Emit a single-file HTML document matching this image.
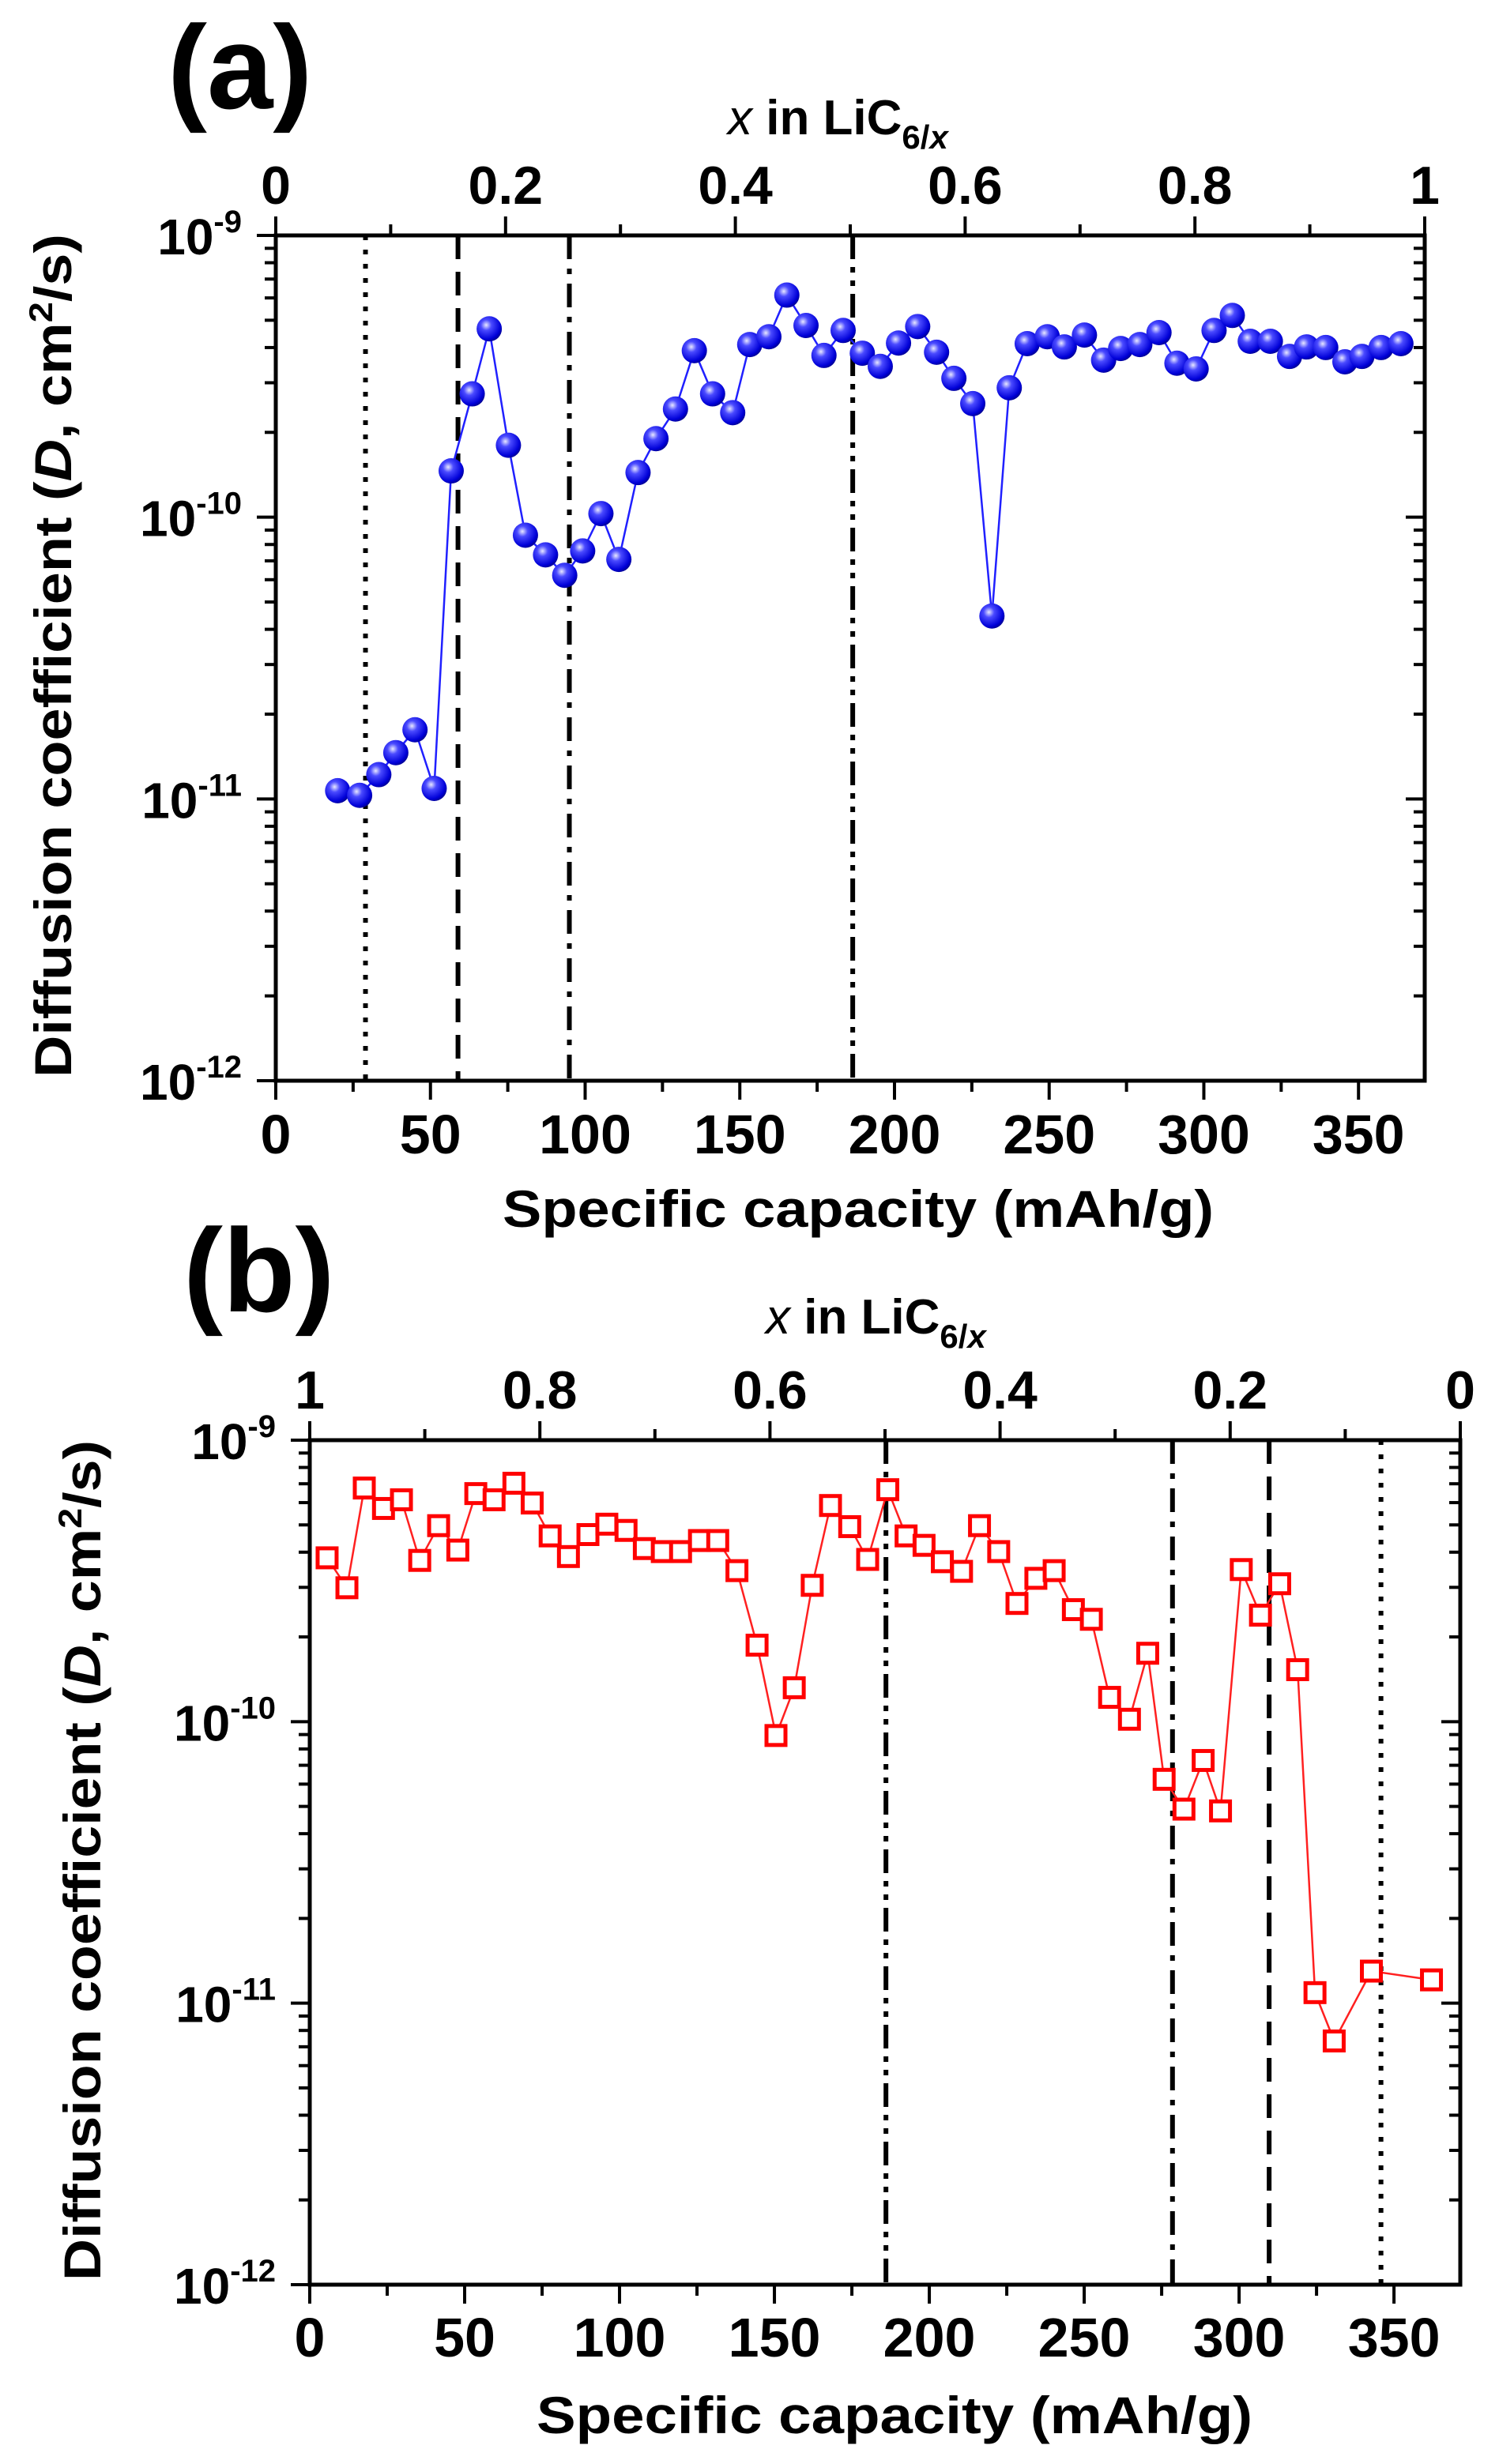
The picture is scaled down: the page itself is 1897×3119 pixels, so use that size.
<!DOCTYPE html>
<html><head><meta charset="utf-8">
<style>
html,body{margin:0;padding:0;background:#fff;}
svg{display:block;font-family:"Liberation Sans",Arial,sans-serif;font-weight:bold;}
</style></head>
<body>
<svg id="fig" width="1897" height="3119" viewBox="0 0 1897 3119" xmlns="http://www.w3.org/2000/svg">
<defs>
<radialGradient id="ball" cx="0.38" cy="0.35" r="0.7">
<stop offset="0" stop-color="#e8e8ff"/>
<stop offset="0.3" stop-color="#4a4aff"/>
<stop offset="0.8" stop-color="#0000d8"/>
<stop offset="1" stop-color="#00008a"/>
</radialGradient>
</defs>
</svg>
<script>
// ---------- Data (panel a: lithiation) ----------
const capA = [20.0,27.1,33.3,38.8,45.0,51.2,56.7,63.5,69.0,75.2,80.7,87.2,93.4,99.2,105.1,110.9,117.1,122.9,129.2,135.3,141.2,147.7,153.2,159.4,165.2,171.4,177.2,183.4,189.6,195.4,201.3,207.5,213.6,219.2,225.3,231.5,237.1,242.9,249.4,254.9,261.4,267.6,273.1,279.3,285.5,291.3,297.5,303.3,309.2,315.0,321.5,327.7,333.2,339.4,345.6,351.1,357.3,363.7];
const diffA = [1.07e-11,1.03e-11,1.22e-11,1.46e-11,1.76e-11,1.09e-11,1.46e-10,2.74e-10,4.66e-10,1.80e-10,8.63e-11,7.35e-11,6.22e-11,7.59e-11,1.03e-10,7.08e-11,1.44e-10,1.90e-10,2.42e-10,3.90e-10,2.74e-10,2.35e-10,4.10e-10,4.37e-10,6.14e-10,4.79e-10,3.75e-10,4.60e-10,3.82e-10,3.43e-10,4.15e-10,4.75e-10,3.85e-10,3.11e-10,2.53e-10,4.46e-11,2.88e-10,4.13e-10,4.37e-10,4.02e-10,4.43e-10,3.61e-10,3.97e-10,4.10e-10,4.52e-10,3.52e-10,3.36e-10,4.60e-10,5.20e-10,4.21e-10,4.21e-10,3.72e-10,4.02e-10,4.00e-10,3.56e-10,3.72e-10,4.00e-10,4.13e-10];
const vlinesA = [29.0, 58.9, 94.9, 186.5];
// ---------- Data (panel b: delithiation) ----------
const capB = [5.6,12.0,17.6,23.8,29.6,35.5,41.6,47.8,53.6,59.5,65.9,71.8,77.6,83.5,89.8,95.9,102.1,108.0,113.8,119.7,125.8,131.7,137.9,144.4,150.5,156.4,162.2,168.1,174.3,180.1,186.6,192.5,198.3,204.2,210.4,216.2,222.4,228.3,234.4,240.3,246.5,252.3,258.2,264.6,270.5,275.8,282.2,288.4,294.0,300.7,306.9,313.1,318.9,324.5,330.7,342.7,362.1];
const diffB = [3.82e-10,2.99e-10,6.76e-10,5.72e-10,6.14e-10,3.74e-10,4.97e-10,4.07e-10,6.46e-10,6.14e-10,7.03e-10,5.98e-10,4.57e-10,3.86e-10,4.62e-10,5.03e-10,4.78e-10,4.12e-10,4.02e-10,4.02e-10,4.40e-10,4.40e-10,3.44e-10,1.87e-10,8.93e-11,1.32e-10,3.05e-10,5.86e-10,4.93e-10,3.77e-10,6.67e-10,4.57e-10,4.23e-10,3.70e-10,3.42e-10,4.97e-10,4.02e-10,2.63e-10,3.23e-10,3.44e-10,2.50e-10,2.31e-10,1.22e-10,1.02e-10,1.75e-10,6.24e-11,4.89e-11,7.28e-11,4.82e-11,3.47e-10,2.39e-10,3.09e-10,1.53e-10,1.09e-11,7.34e-12,1.30e-11,1.21e-11];
const vlinesB = [186.0, 278.5, 309.7, 345.8];
// ---------- Axis tick labels ----------
const xTicks = [0,50,100,150,200,250,300,350];
const topTicksA = [0,0.2,0.4,0.6,0.8,1];
const topLabelsA = ["0","0.2","0.4","0.6","0.8","1"];
const topTicksB = [1,0.8,0.6,0.4,0.2,0];
const topLabelsB = ["1","0.8","0.6","0.4","0.2","0"];
const yExps = [-9,-10,-11,-12];
const dashStyles = ["6,12","30,16","30,12,7,12","30,10,7,10,7,10"];
const XMAX = 371.4;

const NS = "http://www.w3.org/2000/svg";
const svg = document.getElementById('fig');
function mk(tag, attrs, parent){
  const e = document.createElementNS(NS, tag);
  for (const k in attrs) e.setAttribute(k, attrs[k]);
  (parent||svg).appendChild(e);
  return e;
}

function panel(cfg){
  const g = mk('g', {});
  
  
  const L=cfg.L,R=cfg.R,T=cfg.T,B=cfg.B;
  const xs = v => L + (v/XMAX)*(R-L);
  const ys = d => T + (-9 - Math.log10(d))/3*(B-T);

  cfg.vlines.forEach((v,i)=>{
    const l = mk('line',{x1:xs(v),x2:xs(v),y1:T,y2:B,stroke:'#000','stroke-width':6,'stroke-dasharray':dashStyles[cfg.vorder[i]]},g);
    
    
  });

  const pts = cfg.cap.map((c,i)=>xs(c)+','+ys(cfg.diff[i])).join(' ');
  const pl = mk('polyline',{points:pts,fill:'none',stroke:cfg.color,'stroke-width':2.5},g);
  
  

  cfg.cap.forEach((c,i)=>{
    let m;
    if (cfg.marker==='ball'){
      m = mk('circle',{cx:xs(c),cy:ys(cfg.diff[i]),r:16,fill:'url(#ball)'},g);
    } else {
      m = mk('rect',{x:xs(c)-12,y:ys(cfg.diff[i])-12,width:24,height:24,fill:'#fff',stroke:'#ff0000','stroke-width':5},g);
    }
    
    
  });

  const fr = mk('rect',{x:L,y:T,width:R-L,height:B-T,fill:'none',stroke:'#000','stroke-width':5},g);
  
  

  for (let v=0; v<=XMAX; v+=25){
    const major = v%50===0;
    mk('line',{x1:xs(v),x2:xs(v),y1:B,y2:B+(major?24:14),stroke:'#000','stroke-width':4},g);
  }
  xTicks.forEach(v=>{
    const t = mk('text',{x:xs(v),y:cfg.xLabY,'text-anchor':'middle','font-size':70},g);
    t.textContent = v;
    
    
  });
  for (let k=0;k<=10;k++){
    const f = k/10;
    const xv = cfg.reverse ? (1-f)*XMAX : f*XMAX;
    const major = k%2===0;
    mk('line',{x1:xs(xv),x2:xs(xv),y1:T,y2:T-(major?24:14),stroke:'#000','stroke-width':4},g);
  }
  cfg.topTicks.forEach((f,i)=>{
    const xv = cfg.reverse ? (1-f)*XMAX : f*XMAX;
    const t = mk('text',{x:xs(xv),y:cfg.topLabY,'text-anchor':'middle','font-size':68},g);
    t.textContent = cfg.topLabels[i];
    
    
  });
  for (let e=-12;e<=-9;e++){
    for (let m=1;m<=9;m++){
      if (e===-9 && m>1) break;
      const d = m*Math.pow(10,e);
      const y = ys(d);
      const major = m===1;
      mk('line',{x1:L,x2:L-(major?24:14),y1:y,y2:y,stroke:'#000','stroke-width':4},g);
      mk('line',{x1:R,x2:R-(major?24:14),y1:y,y2:y,stroke:'#000','stroke-width':4},g);
    }
  }
  yExps.forEach(e=>{
    const y = ys(Math.pow(10,e));
    const t = mk('text',{x:cfg.yLabX,y:y+24,'text-anchor':'end','font-size':64},g);
    
    
    const a = mk('tspan',{},t); a.textContent='10';
    const b = mk('tspan',{dy:-28,'font-size':40},t); b.textContent=String(e);
  });

  const pl2 = mk('text',{x:cfg.lab[0],y:cfg.lab[1],'font-size':150},g);
  pl2.textContent = cfg.labText;
  
  

  const tt = mk('text',{x:cfg.topTitle[0],y:cfg.topTitle[1],'font-size':62},g);
  
  
  const t1 = mk('tspan',{'font-style':'italic','font-weight':'normal'},tt); t1.textContent='x';
  const t2 = mk('tspan',{},tt); t2.textContent=' in LiC';
  const t3 = mk('tspan',{dy:18,'font-size':42},tt); t3.textContent='6/';
  const t4 = mk('tspan',{'font-size':42,'font-style':'italic'},tt); t4.textContent='x';

  const xt = mk('text',{x:cfg.xTitle[0],y:cfg.xTitle[1],'font-size':66,textLength:cfg.xTitle[2],lengthAdjust:'spacingAndGlyphs'},g);
  xt.textContent = 'Specific capacity (mAh/g)';
  
  

  const yt = mk('text',{x:0,y:0,'font-size':66,'text-anchor':'middle',textLength:cfg.yTitle[2],lengthAdjust:'spacingAndGlyphs',transform:'translate('+cfg.yTitle[0]+','+cfg.yTitle[1]+') rotate(-90)'},g);
  
  
  const y1 = mk('tspan',{},yt); y1.textContent='Diffusion coefficient (';
  const y2 = mk('tspan',{'font-style':'italic'},yt); y2.textContent='D';
  const y3 = mk('tspan',{},yt); y3.textContent=', cm';
  const y4 = mk('tspan',{dy:-24,'font-size':42},yt); y4.textContent='2';
  const y5 = mk('tspan',{dy:24},yt); y5.textContent='/s)';
}

panel({name:'panel-a', L:349,R:1803,T:298,B:1368, cap:capA, diff:diffA, color:'#2020ff', marker:'ball',
  vlines:vlinesA, vorder:[0,1,2,3], reverse:false, topTicks:topTicksA, topLabels:topLabelsA,
  xLabY:1460, topLabY:258, yLabX:306, lab:[212,137], labText:'(a)',
  topTitle:[921,170], xTitle:[636,1553,900], yTitle:[90,830,1068]});
panel({name:'panel-b', L:392,R:1848,T:1823,B:2892, cap:capB, diff:diffB, color:'#ff2020', marker:'square',
  vlines:vlinesB, vorder:[3,2,1,0], reverse:true, topTicks:topTicksB, topLabels:topLabelsB,
  xLabY:2983, topLabY:1783, yLabX:349, lab:[232,1660], labText:'(b)',
  topTitle:[969,1688], xTitle:[679,3080,906], yTitle:[127,2355,1064]});
</script>
</body></html>
